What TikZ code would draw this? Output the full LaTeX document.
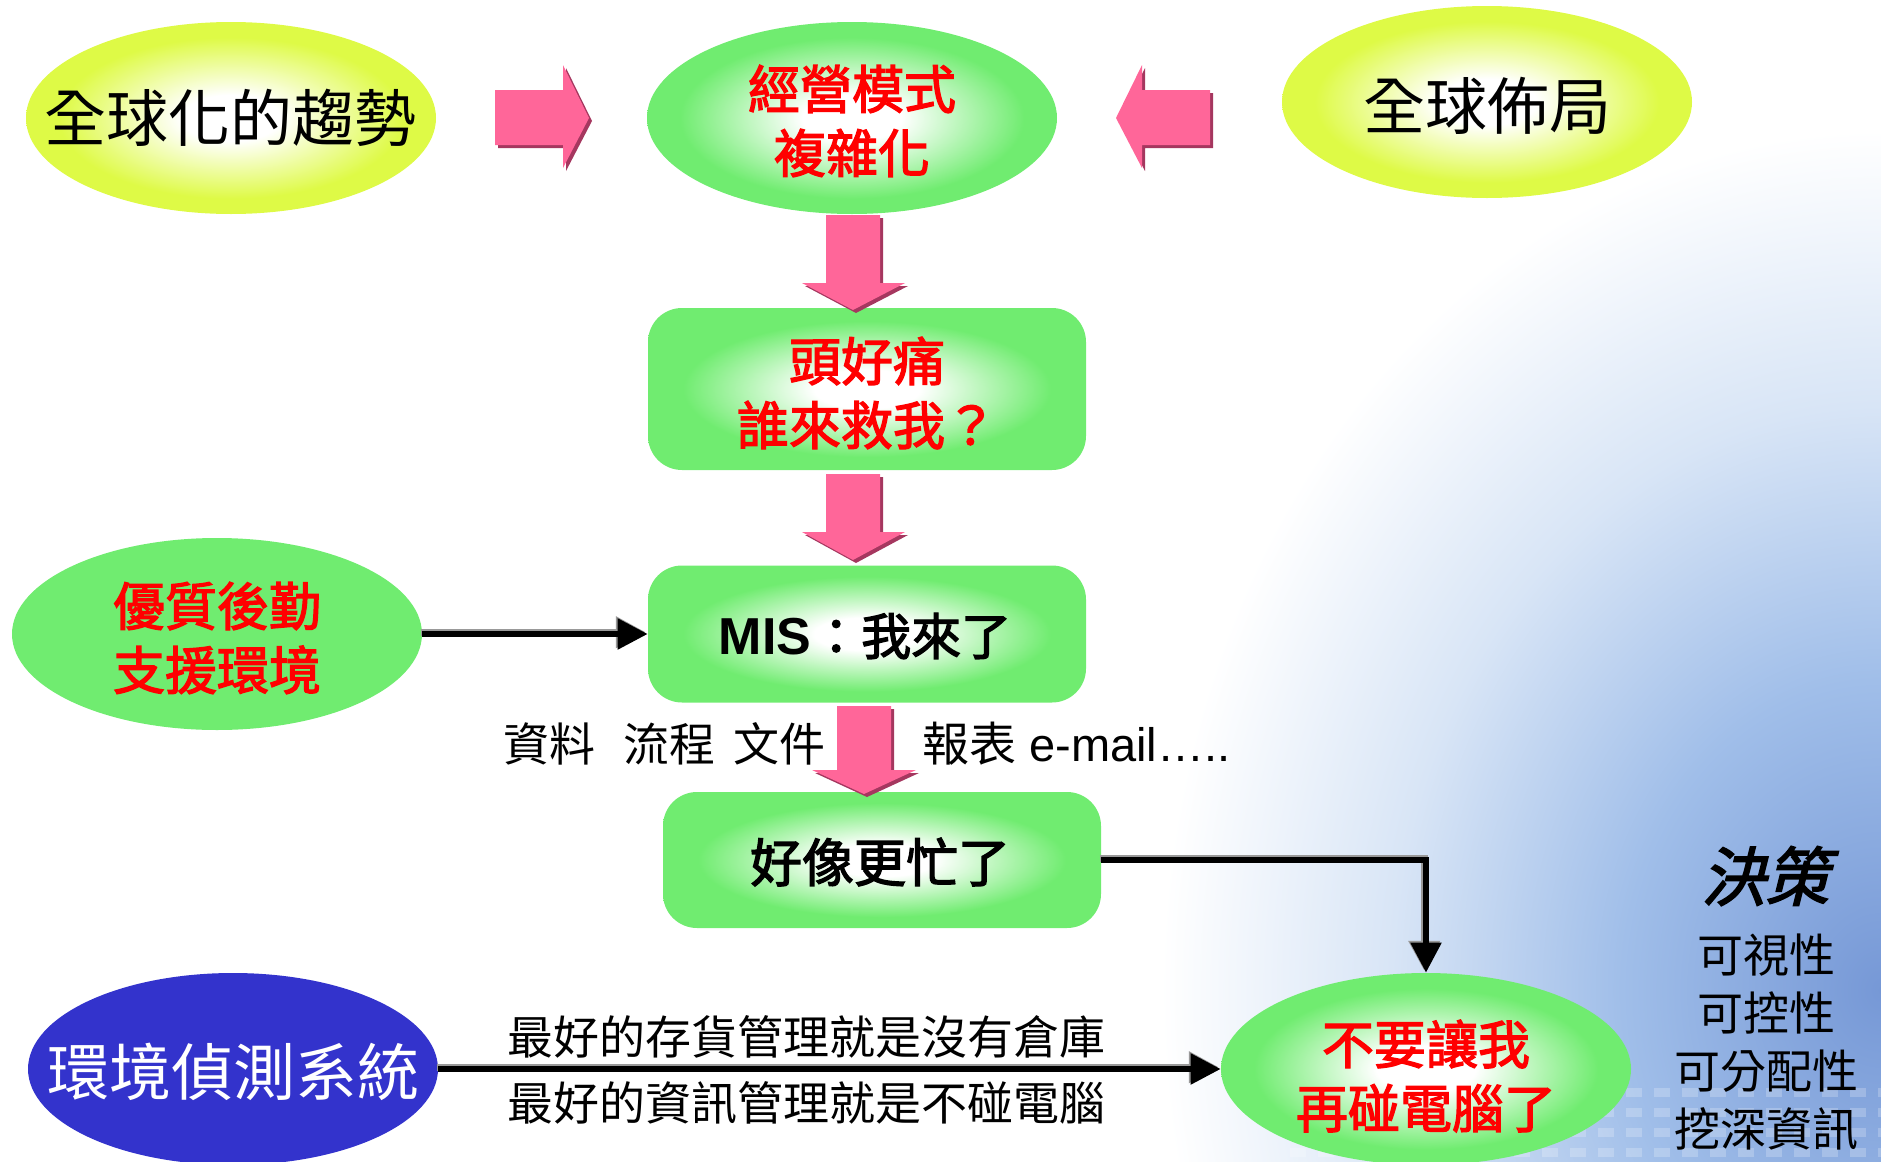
\documentclass[tikz,border=0pt]{standalone}
\usepackage{fontspec}
\setmainfont{Liberation Sans}
\newfontfamily\cjk{Noto Sans CJK TC}
\newfontfamily\cjkb{Noto Sans CJK TC}[FakeBold=2.5]
\newfontfamily\cjkit{Noto Sans CJK TC}[FakeSlant=0.25, FakeBold=2.5]
\usetikzlibrary{shapes.geometric,arrows.meta}

\definecolor{gG}{RGB}{112,236,112}
\definecolor{gY}{RGB}{222,250,70}
\definecolor{gB}{RGB}{51,51,204}
\definecolor{pk}{RGB}{255,102,153}
\definecolor{pkd}{RGB}{165,55,95}
\definecolor{bgA}{RGB}{118,152,214}
\definecolor{bgB}{RGB}{160,190,233}
\definecolor{bgC}{RGB}{216,229,246}

\pgfdeclareradialshading{glowG}{\pgfpoint{0bp}{0bp}}{color(0bp)=(white); color(6bp)=(white); color(21bp)=(gG); color(25bp)=(gG); color(50bp)=(gG)}
\pgfdeclareradialshading{glowY}{\pgfpoint{0bp}{0bp}}{color(0bp)=(white); color(6bp)=(white); color(21bp)=(gY); color(25bp)=(gY); color(50bp)=(gY)}
\pgfdeclareradialshading{bgblue}{\pgfpoint{0bp}{0bp}}{color(0bp)=(bgA); color(9bp)=(bgB); color(17bp)=(bgC); color(25bp)=(white); color(50bp)=(white)}

\tikzset{
  ell/.style={ellipse, minimum width=205pt, minimum height=96pt, inner sep=0pt, draw=none},
  rbox/.style={rectangle, rounded corners=17pt, minimum width=219pt, inner sep=0pt, draw=none, shading=glowG},
  redtxt/.style={text=red, align=center, font=\cjkb\fontsize{26pt}{32pt}\selectfont},
  bigtxt/.style={text=black, align=center, font=\cjk\fontsize{31pt}{36pt}\selectfont},
  smalltxt/.style={text=black, align=center, inner sep=0pt, font=\cjk\fontsize{23pt}{29pt}\selectfont},
  conn/.style={draw=black, line width=2.8pt, -{Triangle[length=15pt,width=15pt]},
    preaction={draw=black!40, line width=3.6pt, -{Triangle[length=15pt,width=15pt]},
      transform canvas={xshift=-0.9pt, yshift=0.9pt}}},
  blockarrow/.style={fill=pk},
  blockshadow/.style={fill=pkd}
}

\begin{document}
\begin{tikzpicture}[x=0.5pt,y=-0.5pt]
\useasboundingbox (0,0) rectangle (1881,1162);

% background tint, lower right
\begin{scope}
  \clip (0,0) rectangle (1881,1162);
  \shade[shading=bgblue] (1881,990) ellipse [x radius=720, y radius=860];
  \foreach \yy in {1088,1108,1128,1148} {
    \foreach \xx in {1290,1318,...,1881} {
      \fill[white, opacity=0.22] (\xx,\yy) rectangle ++(16,9);
    }
  }
\end{scope}

% nodes
\node[ell, shading=glowY] (trend) at (231,118) {};
\node[bigtxt] at (trend.center) {全球化的趨勢};

\node[ell, shading=glowG] (model) at (852,118) {};
\node[redtxt] at (852,121) {經營模式\\複雜化};

\node[ell, shading=glowY] (layout) at (1487,102) {};
\node[bigtxt] at (1487,106) {全球佈局};

\node[rbox, minimum height=81pt] (headache) at (867,389) {};
\node[redtxt] at (867,393) {頭好痛\\誰來救我？};

\node[rbox, minimum height=68.5pt] (mis) at (867,634) {};
\node[font=\fontsize{26pt}{30pt}\selectfont] at (865,636) {\textbf{MIS}{\cjkb\fontsize{25pt}{30pt}\selectfont ：我來了}};

\node[ell, fill=gG] (logistics) at (217,634) {};
\node[redtxt] at (217,638) {優質後勤\\支援環境};

\node[rbox, minimum height=68pt] (busy) at (882,860) {};
\node[font=\cjkb\fontsize{26pt}{30pt}\selectfont] at (880,862) {好像更忙了};

\node[ell, fill=gB] (env) at (233,1069) {};
\node[bigtxt, text=white] at (233,1072) {環境偵測系統};

\node[ell, shading=glowG] (nocomp) at (1426,1069) {};
\node[redtxt] at (1426,1076) {不要讓我\\再碰電腦了};

% labels
\node[anchor=west, inner sep=0pt, font=\cjk\fontsize{23pt}{28pt}\selectfont] (docs) at (503,744) {資料\hspace{14pt}流程\hspace{9pt}文件};
\node[anchor=west, inner sep=0pt, font=\fontsize{23.5pt}{28pt}\selectfont] (reports) at (922,744) {{\cjk 報表} e-mail…..};

\node[smalltxt] (best1) at (806,1037) {最好的存貨管理就是沒有倉庫};
\node[smalltxt] (best2) at (806,1103) {最好的資訊管理就是不碰電腦};

\node[inner sep=0pt, font=\cjkit\fontsize{32pt}{36pt}\selectfont] (decide) at (1765,876) {決策};
\node[smalltxt] (props) at (1766,1042) {可視性\\可控性\\可分配性\\挖深資訊};

% pink block arrows: shadows
\begin{scope}[shift={(3,3)}]
  \fill[blockshadow] (495,90) -- (563,90) -- (563,65) -- (589,118) -- (563,168) -- (563,145) -- (495,145) -- cycle;
  \fill[blockshadow] (1210,90) -- (1142,90) -- (1142,65) -- (1116,118) -- (1142,168) -- (1142,145) -- (1210,145) -- cycle;
  \fill[blockshadow] (826,215) -- (880,215) -- (880,283) -- (905,283) -- (853,310) -- (802,283) -- (826,283) -- cycle;
  \fill[blockshadow] (826,474) -- (880,474) -- (880,532) -- (905,532) -- (853,560) -- (802,532) -- (826,532) -- cycle;
  \fill[blockshadow] (837,706) -- (891,706) -- (891,770) -- (916,770) -- (864,794) -- (812,770) -- (837,770) -- cycle;
\end{scope}
\fill[blockarrow] (495,90) -- (563,90) -- (563,65) -- (589,118) -- (563,168) -- (563,145) -- (495,145) -- cycle;
\fill[blockarrow] (1210,90) -- (1142,90) -- (1142,65) -- (1116,118) -- (1142,168) -- (1142,145) -- (1210,145) -- cycle;
\fill[blockarrow] (826,215) -- (880,215) -- (880,283) -- (905,283) -- (853,310) -- (802,283) -- (826,283) -- cycle;
\fill[blockarrow] (826,474) -- (880,474) -- (880,532) -- (905,532) -- (853,560) -- (802,532) -- (826,532) -- cycle;
\fill[blockarrow] (837,706) -- (891,706) -- (891,770) -- (916,770) -- (864,794) -- (812,770) -- (837,770) -- cycle;

% connectors
\draw[conn] (logistics.east) -- (mis.west);
\draw[conn] (busy.east) -| (nocomp.north);
\draw[conn] (env.east) -- (nocomp.west);
\end{tikzpicture}
\end{document}
